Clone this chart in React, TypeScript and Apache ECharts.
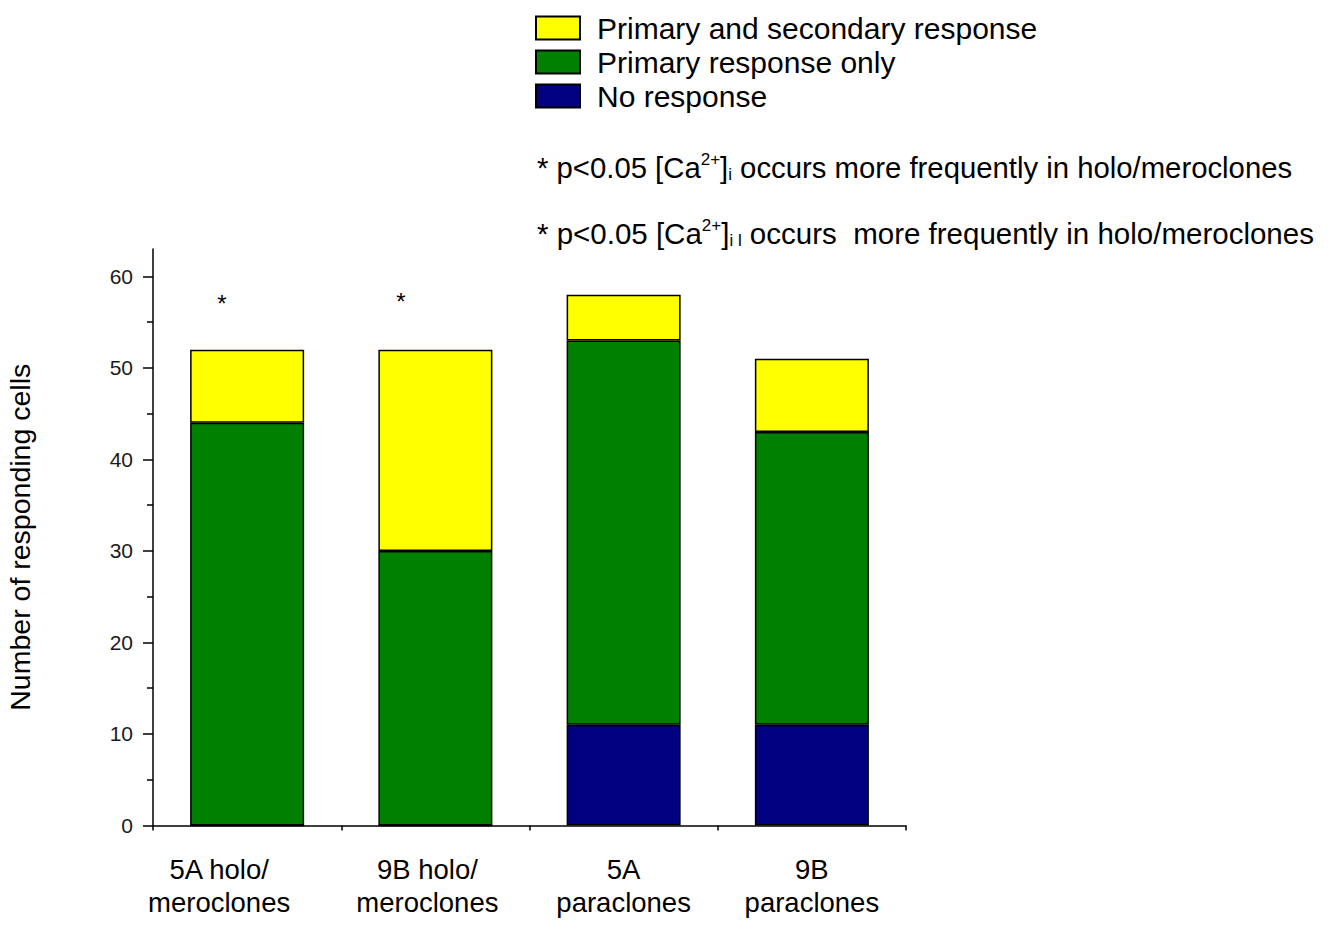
import React, { useEffect, useRef } from "react";
import * as echarts from "echarts";

const categories = ["5A holo/\nmeroclones", "9B holo/\nmeroclones", "5A\nparaclones", "9B\nparaclones"];
const noResponse = [0, 0, 11, 11];
const primaryOnly = [44, 30, 42, 32];
const primaryAndSecondary = [8, 22, 5, 8];
const yMajorTicks = [0, 10, 20, 30, 40, 50, 60];
const yMinorTicks = [5, 15, 25, 35, 45, 55];
const seriesNames = ["Primary and secondary response", "Primary response only", "No response"];
const annotation1 = "* p<0.05 [Ca{sup|2+}]{sub|i} occurs more frequently in holo/meroclones";
const annotation2 = "* p<0.05 [Ca{sup|2+}]{sub|i l} occurs  more frequently in holo/meroclones";
// horizontal label shift (px) seen in the reference
const labelShift = [-28, -8, 0, 0];

const FONT = "'Liberation Sans', Arial, Helvetica, sans-serif";

export default function App() {
  const ref = useRef<HTMLDivElement>(null);
  useEffect(() => {
    if (!ref.current) return;
    const chart = echarts.init(ref.current, null, { renderer: "svg" });
    const border = { borderColor: "#000", borderWidth: 1.5 };
    const richStyle = {
      sup: { fontSize: 17, fontFamily: FONT, verticalAlign: "top", lineHeight: 32, fill: "#000" },
      sub: { fontSize: 17, fontFamily: FONT, verticalAlign: "bottom", lineHeight: 32, fill: "#000" },
    };
    const catData = categories.map((c, i) => ({
      value: c,
      textStyle: {
        padding: labelShift[i] < 0 ? [0, -2 * labelShift[i], 0, 0] : [0, 0, 0, 2 * labelShift[i]],
      },
    }));
    chart.setOption({
      animation: false,
      backgroundColor: "#fff",
      textStyle: { fontFamily: FONT },
      grid: { left: 153, right: 426, top: 249, bottom: 119.5, containLabel: false, outerBoundsMode: "none" },
      legend: {
        orient: "vertical",
        left: 535,
        top: 13,
        padding: 0,
        itemWidth: 44,
        itemHeight: 23,
        itemGap: 4,
        icon: "rect",
        data: seriesNames,
        textStyle: { fontSize: 30, color: "#000", fontFamily: FONT, lineHeight: 28, padding: [0, 0, 0, 12] },
      },
      xAxis: [
        {
          type: "category",
          data: catData,
          position: "bottom",
          axisLine: { lineStyle: { color: "#000", width: 1.5 } },
          axisTick: { alignWithLabel: true, length: 10, lineStyle: { color: "#000", width: 1.5 } },
          axisLabel: { interval: 0, fontSize: 27.5, color: "#000", lineHeight: 33, margin: 27, fontFamily: FONT },
        },
        {
          type: "category",
          data: categories,
          position: "bottom",
          axisLine: { show: false },
          axisTick: { show: true, interval: 0, length: 5, lineStyle: { color: "#000", width: 1.5 } },
          axisLabel: { show: false },
        },
      ],
      yAxis: [
        {
          type: "value",
          min: 0,
          max: 63,
          interval: 10,
          name: "Number of responding cells",
          nameLocation: "middle",
          nameGap: 119,
          nameRotate: 90,
          nameTextStyle: { fontSize: 28.5, color: "#000", fontFamily: FONT },
          axisLine: { show: true, lineStyle: { color: "#000", width: 1.5 } },
          axisTick: { show: true, length: 10, customValues: yMajorTicks, lineStyle: { color: "#000", width: 1.5 } },
          axisLabel: { fontSize: 21, color: "#1a1a1a", margin: 20, customValues: yMajorTicks, fontFamily: FONT },
          splitLine: { show: false },
        },
        {
          type: "value",
          min: 0,
          max: 63,
          position: "left",
          axisLine: { show: false },
          axisTick: { show: true, length: 6, customValues: yMinorTicks, lineStyle: { color: "#000", width: 1.5 } },
          axisLabel: { show: false },
          splitLine: { show: false },
        },
      ],
      series: [
        {
          name: seriesNames[2],
          type: "bar",
          stack: "total",
          barWidth: 114,
          data: noResponse,
          itemStyle: { color: "#000080", ...border },
        },
        {
          name: seriesNames[1],
          type: "bar",
          stack: "total",
          barWidth: 114,
          data: primaryOnly,
          itemStyle: { color: "#008000", ...border },
        },
        {
          name: seriesNames[0],
          type: "bar",
          stack: "total",
          barWidth: 114,
          data: primaryAndSecondary,
          itemStyle: { color: "#ffff00", ...border },
        },
      ],
      graphic: [
        {
          type: "text",
          left: 537,
          top: 151,
          style: { text: annotation1, fontSize: 29.3, fontFamily: FONT, fill: "#000", lineHeight: 32, rich: richStyle },
        },
        {
          type: "text",
          left: 537,
          top: 217,
          style: { text: annotation2, fontSize: 29.5, fontFamily: FONT, fill: "#000", lineHeight: 32, rich: richStyle },
        },
        { type: "text", x: 222, y: 303, style: { text: "*", fontSize: 24, fontFamily: FONT, fill: "#000", align: "center", verticalAlign: "middle" } },
        { type: "text", x: 401, y: 301, style: { text: "*", fontSize: 24, fontFamily: FONT, fill: "#000", align: "center", verticalAlign: "middle" } },
      ],
    });
    return () => chart.dispose();
  }, []);
  return <div ref={ref} style={{ position: "absolute", left: 0, top: 0, width: 1332, height: 945 }} />;
}
